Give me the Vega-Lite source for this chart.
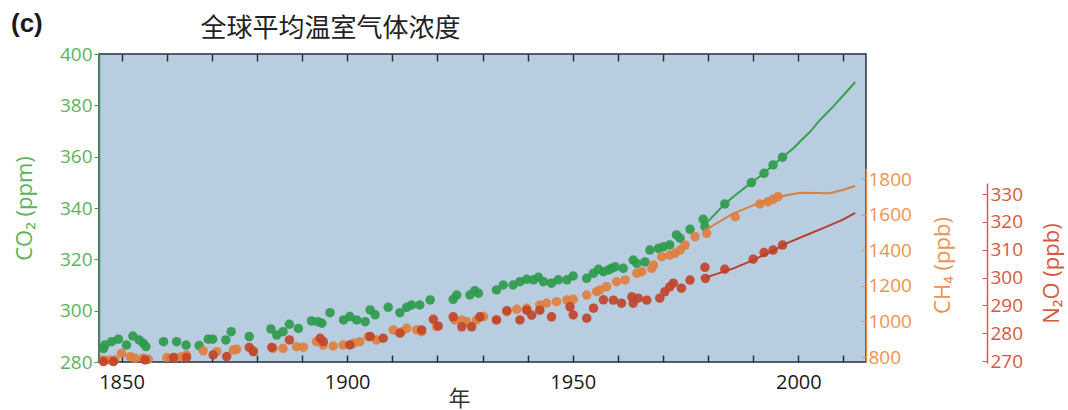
{
  "$schema": "https://vega.github.io/schema/vega-lite/v6.json",
  "width": 767,
  "height": 308,
  "autosize": {"type": "none"},
  "padding": {"left": 99, "top": 54, "right": 202, "bottom": 48},
  "background": "#ffffff",
  "title": {"text": "(c)", "anchor": "start", "frame": "group", "dx": -88, "dy": 35, "font": "Liberation Sans", "fontSize": 26, "fontWeight": "bold", "color": "#1a1a1a", "baseline": "middle", "offset": 0},
  "config": {
    "view": {"fill": "#b9cde1", "stroke": "#25303b", "strokeWidth": 1.5},
    "axis": {"labelFont": "Open Sans", "titleFont": "Open Sans", "grid": false, "titleFontWeight": "normal", "labelOverlap": false, "format": "d"}
  },
  "datasets": {
    "co2_pts": [
      {"year": 1846.0, "value": 285.3}, {"year": 1846.3, "value": 286.6}, {"year": 1847.8, "value": 287.9}, {"year": 1849.3, "value": 288.9},
      {"year": 1851.1, "value": 286.6}, {"year": 1852.5, "value": 290.1}, {"year": 1853.9, "value": 288.6}, {"year": 1854.8, "value": 287.3},
      {"year": 1855.4, "value": 286.0}, {"year": 1859.3, "value": 287.9}, {"year": 1862.2, "value": 287.9}, {"year": 1864.3, "value": 286.6},
      {"year": 1867.2, "value": 286.4}, {"year": 1869.2, "value": 288.9}, {"year": 1870.2, "value": 288.9}, {"year": 1873.1, "value": 288.6},
      {"year": 1874.3, "value": 291.8}, {"year": 1878.3, "value": 289.9}, {"year": 1883.1, "value": 292.9}, {"year": 1884.4, "value": 290.5},
      {"year": 1885.8, "value": 291.8}, {"year": 1887.2, "value": 294.7}, {"year": 1889.2, "value": 293.1}, {"year": 1892.1, "value": 296.0},
      {"year": 1893.5, "value": 295.7}, {"year": 1894.4, "value": 295.1}, {"year": 1896.2, "value": 299.2}, {"year": 1899.2, "value": 296.4},
      {"year": 1900.6, "value": 297.7}, {"year": 1902.1, "value": 296.4}, {"year": 1904.0, "value": 295.7}, {"year": 1905.1, "value": 300.3},
      {"year": 1906.2, "value": 298.4}, {"year": 1909.1, "value": 301.3}, {"year": 1911.7, "value": 299.2}, {"year": 1913.2, "value": 301.3},
      {"year": 1914.3, "value": 302.2}, {"year": 1916.1, "value": 302.2}, {"year": 1918.4, "value": 304.2}, {"year": 1923.5, "value": 304.4},
      {"year": 1924.3, "value": 306.1}, {"year": 1927.2, "value": 306.1}, {"year": 1928.3, "value": 307.8}, {"year": 1929.1, "value": 306.8},
      {"year": 1933.1, "value": 308.1}, {"year": 1934.6, "value": 310.0}, {"year": 1936.8, "value": 310.0}, {"year": 1938.3, "value": 311.3},
      {"year": 1939.8, "value": 312.2}, {"year": 1941.3, "value": 312.0}, {"year": 1942.4, "value": 313.0}, {"year": 1943.5, "value": 311.3},
      {"year": 1945.3, "value": 310.7}, {"year": 1946.8, "value": 312.0}, {"year": 1948.7, "value": 312.0}, {"year": 1950.1, "value": 313.5},
      {"year": 1953.1, "value": 312.6}, {"year": 1954.6, "value": 314.6}, {"year": 1955.7, "value": 316.1}, {"year": 1956.8, "value": 315.2},
      {"year": 1957.9, "value": 315.8}, {"year": 1958.6, "value": 316.5}, {"year": 1959.4, "value": 317.1}, {"year": 1961.2, "value": 316.5},
      {"year": 1963.4, "value": 319.7}, {"year": 1964.2, "value": 318.4}, {"year": 1966.0, "value": 319.0}, {"year": 1967.1, "value": 323.6},
      {"year": 1969.0, "value": 324.3}, {"year": 1970.1, "value": 324.9}, {"year": 1971.5, "value": 325.6}, {"year": 1973.0, "value": 329.5},
      {"year": 1973.8, "value": 328.2}, {"year": 1976.0, "value": 331.7}, {"year": 1978.9, "value": 335.6}, {"year": 1979.3, "value": 332.7},
      {"year": 1983.7, "value": 341.6}, {"year": 1989.6, "value": 349.9}, {"year": 1992.4, "value": 353.5}, {"year": 1994.4, "value": 356.8},
      {"year": 1996.5, "value": 359.8}
    ],
    "co2_line": [
      {"year": 1979.3, "value": 333.5}, {"year": 1983.7, "value": 341.6}, {"year": 1986.0, "value": 345.0}, {"year": 1989.6, "value": 349.9},
      {"year": 1992.4, "value": 353.5}, {"year": 1994.4, "value": 356.8}, {"year": 1996.5, "value": 359.8}, {"year": 1998.9, "value": 363.3},
      {"year": 2001.1, "value": 367.2}, {"year": 2002.6, "value": 369.7}, {"year": 2004.8, "value": 374.3}, {"year": 2007.7, "value": 379.5},
      {"year": 2010.7, "value": 385.3}, {"year": 2012.6, "value": 389.1}
    ],
    "ch4_pts": [
      {"year": 1846.0, "value": 783}, {"year": 1847.4, "value": 783}, {"year": 1848.5, "value": 783}, {"year": 1850.0, "value": 821},
      {"year": 1851.9, "value": 802}, {"year": 1853.0, "value": 793}, {"year": 1854.8, "value": 793}, {"year": 1855.9, "value": 787},
      {"year": 1860.0, "value": 798}, {"year": 1861.8, "value": 798}, {"year": 1863.3, "value": 802}, {"year": 1864.4, "value": 811},
      {"year": 1868.1, "value": 835}, {"year": 1871.1, "value": 830}, {"year": 1874.8, "value": 839}, {"year": 1875.5, "value": 843},
      {"year": 1879.2, "value": 835}, {"year": 1883.6, "value": 849}, {"year": 1885.8, "value": 849}, {"year": 1888.8, "value": 858},
      {"year": 1890.3, "value": 855}, {"year": 1893.2, "value": 886}, {"year": 1894.7, "value": 867}, {"year": 1896.9, "value": 862},
      {"year": 1899.1, "value": 867}, {"year": 1901.4, "value": 877}, {"year": 1902.8, "value": 886}, {"year": 1904.7, "value": 914},
      {"year": 1906.5, "value": 896}, {"year": 1910.2, "value": 952}, {"year": 1912.1, "value": 942}, {"year": 1913.2, "value": 961},
      {"year": 1915.4, "value": 952}, {"year": 1916.5, "value": 942}, {"year": 1919.8, "value": 970}, {"year": 1923.9, "value": 1008},
      {"year": 1925.4, "value": 1008}, {"year": 1926.5, "value": 998}, {"year": 1928.7, "value": 1008}, {"year": 1930.2, "value": 1027},
      {"year": 1933.1, "value": 1008}, {"year": 1935.4, "value": 1055}, {"year": 1937.6, "value": 1068}, {"year": 1939.8, "value": 1074},
      {"year": 1942.7, "value": 1092}, {"year": 1944.2, "value": 1102}, {"year": 1946.4, "value": 1111}, {"year": 1948.7, "value": 1120},
      {"year": 1950.1, "value": 1124}, {"year": 1953.1, "value": 1148}, {"year": 1955.3, "value": 1167}, {"year": 1956.0, "value": 1177},
      {"year": 1957.5, "value": 1195}, {"year": 1959.7, "value": 1223}, {"year": 1961.6, "value": 1233}, {"year": 1964.2, "value": 1270},
      {"year": 1965.3, "value": 1279}, {"year": 1967.5, "value": 1298}, {"year": 1967.9, "value": 1317}, {"year": 1969.7, "value": 1364},
      {"year": 1971.5, "value": 1373}, {"year": 1972.7, "value": 1383}, {"year": 1973.8, "value": 1401}, {"year": 1974.9, "value": 1429},
      {"year": 1977.1, "value": 1476}, {"year": 1979.7, "value": 1495}, {"year": 1986.0, "value": 1588}, {"year": 1991.5, "value": 1660},
      {"year": 1993.3, "value": 1673}, {"year": 1994.4, "value": 1686}, {"year": 1995.5, "value": 1701}
    ],
    "ch4_line": [
      {"year": 1979.5, "value": 1515}, {"year": 1985.6, "value": 1607}, {"year": 1989.3, "value": 1645}, {"year": 1993.0, "value": 1682},
      {"year": 1995.9, "value": 1701}, {"year": 1998.0, "value": 1712}, {"year": 2000.4, "value": 1723}, {"year": 2004.0, "value": 1722},
      {"year": 2007.0, "value": 1720}, {"year": 2010.0, "value": 1740}, {"year": 2012.6, "value": 1761}
    ],
    "n2o_pts": [
      {"year": 1846.0, "value": 269.8}, {"year": 1848.2, "value": 269.8}, {"year": 1855.2, "value": 270.4}, {"year": 1861.5, "value": 271.3},
      {"year": 1864.4, "value": 271.3}, {"year": 1870.3, "value": 272.2}, {"year": 1873.3, "value": 271.6}, {"year": 1878.3, "value": 274.9},
      {"year": 1879.2, "value": 273.4}, {"year": 1883.3, "value": 274.9}, {"year": 1887.2, "value": 277.6}, {"year": 1894.0, "value": 278.2},
      {"year": 1894.7, "value": 277.0}, {"year": 1900.6, "value": 275.8}, {"year": 1905.1, "value": 278.8}, {"year": 1908.0, "value": 278.2},
      {"year": 1911.7, "value": 280.0}, {"year": 1916.5, "value": 281.2}, {"year": 1919.1, "value": 285.0}, {"year": 1920.2, "value": 282.6},
      {"year": 1923.5, "value": 285.9}, {"year": 1925.4, "value": 282.3}, {"year": 1927.6, "value": 282.3}, {"year": 1929.4, "value": 285.9},
      {"year": 1933.1, "value": 284.8}, {"year": 1935.4, "value": 288.1}, {"year": 1938.3, "value": 284.8}, {"year": 1939.8, "value": 288.3},
      {"year": 1940.9, "value": 286.5}, {"year": 1942.7, "value": 288.3}, {"year": 1945.3, "value": 285.9}, {"year": 1949.4, "value": 289.5},
      {"year": 1950.1, "value": 286.6}, {"year": 1953.1, "value": 285.4}, {"year": 1954.6, "value": 289.0}, {"year": 1956.8, "value": 292.0},
      {"year": 1959.0, "value": 291.9}, {"year": 1960.8, "value": 290.8}, {"year": 1963.1, "value": 293.1}, {"year": 1963.4, "value": 290.8},
      {"year": 1964.5, "value": 292.6}, {"year": 1966.4, "value": 291.9}, {"year": 1969.3, "value": 292.6}, {"year": 1970.4, "value": 294.9},
      {"year": 1971.5, "value": 296.7}, {"year": 1972.3, "value": 298.0}, {"year": 1974.1, "value": 296.2}, {"year": 1976.0, "value": 299.1},
      {"year": 1979.3, "value": 303.7}, {"year": 1979.4, "value": 299.7}, {"year": 1983.7, "value": 303.0}, {"year": 1990.0, "value": 306.6},
      {"year": 1992.4, "value": 309.0}, {"year": 1994.4, "value": 309.9}, {"year": 1996.5, "value": 311.7}
    ],
    "n2o_line": [
      {"year": 1979.5, "value": 300.0}, {"year": 1980.6, "value": 300.6}, {"year": 1985.6, "value": 303.3}, {"year": 1990.0, "value": 306.3},
      {"year": 1994.4, "value": 309.7}, {"year": 1997.4, "value": 312.3}, {"year": 2001.8, "value": 315.3}, {"year": 2006.3, "value": 318.3},
      {"year": 2010.0, "value": 320.9}, {"year": 2012.6, "value": 323.3}
    ]
  },
  "layer": [
    {
      "encoding": {
        "x": {"field": "year", "type": "quantitative", "scale": {"domain": [1845, 2015], "nice": false, "zero": false},
          "axis": {"orient": "bottom", "values": [1850, 1860, 1870, 1880, 1890, 1900, 1910, 1920, 1930, 1940, 1950, 1960, 1970, 1980, 1990, 2000, 2010],
            "labelExpr": "datum.value % 50 === 0 ? datum.value : ''", "tickSize": -7, "tickColor": "#25303b", "tickWidth": 1.5, "domain": false,
            "labelFontSize": 20, "labelColor": "#1a1a1a", "labelPadding": 17, "labelFlush": false,
            "title": "年", "titleFont": "Noto Sans CJK SC", "titleFontSize": 22, "titleColor": "#333333", "titleX": 360, "titleY": 36, "titleAlign": "center", "titleBaseline": "middle"}},
        "y": {"field": "value", "type": "quantitative", "scale": {"domain": [280, 400], "nice": false, "zero": false},
          "axis": {"orient": "left", "values": [280, 300, 320, 340, 360, 380, 400], "domainColor": "#4c8f5e", "domainWidth": 1.5, "tickColor": "#4c8f5e", "tickSize": 5,
            "labelColor": "#5db35a", "labelFontSize": 19, "labelPadding": 2, "title": "CO₂ (ppm)", "titleColor": "#5db35a", "titleFontSize": 22, "titlePadding": 23}}
      },
      "layer": [
        {"data": {"name": "co2_pts"}, "mark": {"type": "circle", "size": 90, "opacity": 0.92, "color": "#2e9b4c"}},
        {"data": {"name": "co2_line"}, "mark": {"type": "line", "color": "#36a04a", "strokeWidth": 2}}
      ]
    },
    {
      "encoding": {
        "x": {"field": "year", "type": "quantitative", "scale": {"domain": [1845, 2015], "nice": false, "zero": false},
          "axis": {"orient": "top", "values": [1850, 1860, 1870, 1880, 1890, 1900, 1910, 1920, 1930, 1940, 1950, 1960, 1970, 1980, 1990, 2000, 2010],
            "labels": false, "tickSize": -7, "tickColor": "#25303b", "tickWidth": 1.5, "domain": false,
            "title": "全球平均温室气体浓度", "titleFont": "Noto Sans CJK SC", "titleFontSize": 26, "titleColor": "#222222", "titleX": 101, "titleY": -26, "titleAlign": "left", "titleBaseline": "middle"}},
        "y": {"field": "value", "type": "quantitative", "scale": {"domain": [772, 1862], "range": [308, 114], "nice": false, "zero": false},
          "axis": {"orient": "right", "values": [800, 1000, 1200, 1400, 1600, 1800], "domainColor": "#e8914a", "domainWidth": 1.5, "tickColor": "#e8914a", "tickSize": -5,
            "labelColor": "#ef9350", "labelFontSize": 19, "labelPadding": 7, "title": "CH₄ (ppb)", "titleAngle": 270, "titleBaseline": "top", "titleColor": "#ef9350", "titleFontSize": 22, "titlePadding": 21}}
      },
      "layer": [
        {"data": {"name": "ch4_pts"}, "mark": {"type": "circle", "size": 90, "opacity": 0.92, "color": "#de7f3f"}},
        {"data": {"name": "ch4_line"}, "mark": {"type": "line", "color": "#d9803e", "strokeWidth": 2}}
      ]
    },
    {
      "encoding": {
        "x": {"field": "year", "type": "quantitative", "scale": {"domain": [1845, 2015], "nice": false, "zero": false}, "axis": null},
        "y": {"field": "value", "type": "quantitative", "scale": {"domain": [269.3, 334], "range": [309, 129], "nice": false, "zero": false},
          "axis": {"orient": "right", "offset": 121, "values": [270, 280, 290, 300, 310, 320, 330], "domainColor": "#d4603f", "domainWidth": 1.5, "tickColor": "#d4603f", "tickSize": -5,
            "labelColor": "#d65a40", "labelFontSize": 19, "labelPadding": 8, "title": "N₂O (ppb)", "titleAngle": 270, "titleBaseline": "top", "titleColor": "#d65a40", "titleFontSize": 22, "titlePadding": 19}}
      },
      "layer": [
        {"data": {"name": "n2o_pts"}, "mark": {"type": "circle", "size": 90, "opacity": 0.92, "color": "#c1452b"}},
        {"data": {"name": "n2o_line"}, "mark": {"type": "line", "color": "#b8402c", "strokeWidth": 2}}
      ]
    }
  ],
  "resolve": {"scale": {"y": "independent"}, "axis": {"x": "independent"}}
}
